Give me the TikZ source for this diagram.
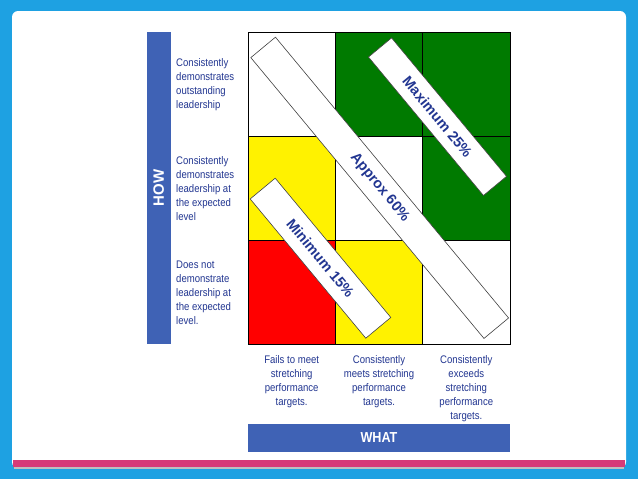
\documentclass[tikz,border=0pt]{standalone}
\usepackage{fontspec}
\setmainfont{Liberation Sans}
\newfontfamily\narrowfont[FakeStretch=0.87]{Liberation Sans}
\definecolor{skyblue}{RGB}{30,161,226}
\definecolor{barblue}{RGB}{63,98,181}
\definecolor{inkblue}{RGB}{34,54,145}
\definecolor{deepgreen}{RGB}{0,122,0}
\definecolor{pinkline}{RGB}{214,58,120}
\tikzset{
  cell/.style={draw=black, line width=0.9pt, minimum width=87.33pt, minimum height=104pt, inner sep=0pt},
  band/.style={draw=black!75, fill=white, line width=0.6pt, inner sep=0pt, rotate=-50.3,
    text=inkblue, font=\fontsize{14.5}{16}\selectfont\bfseries},
  rowlbl/.style={anchor=west, align=left, inner sep=0pt, text=inkblue,
    font=\narrowfont\fontsize{11}{14}\selectfont},
  collbl/.style={anchor=north, align=center, inner sep=0pt, text=inkblue,
    font=\narrowfont\fontsize{11}{14}\selectfont},
  axisbar/.style={fill=barblue, text=white, inner sep=0pt}
}
\begin{document}
\begin{tikzpicture}[x=1pt,y=-1pt]
    \useasboundingbox (0,0) rectangle (638,479);
    % Frame
    \fill[skyblue] (0,0) rectangle (638,479);
    \fill[white, rounded corners=6pt] (12,11) rectangle (626,468);
    \fill[pinkline] (13,460) rectangle (625,467);
    \fill[black!25] (14,467) rectangle (624,468.5);
    % Grid
    \foreach \r/\c/\clr in {1/1/white,1/2/deepgreen,1/3/deepgreen,
                            2/1/yellow,2/2/white,2/3/deepgreen,
                            3/1/red,3/2/yellow,3/3/white}
        \node[cell, fill=\clr] (c\r\c) at ({248+87.33*(\c-0.5)},{32+104*(\r-0.5)}) {};
    % HOW axis
    \node[axisbar, rotate=90, minimum width=312pt, minimum height=24.5pt,
          font=\bfseries\fontsize{15}{15}\selectfont] (how) at (158.75,188) {HOW};
    \node[rowlbl] (how1) at (176,84.5) {Consistently\\demonstrates\\outstanding\\leadership};
    \node[rowlbl] (how2) at (176,189) {Consistently\\demonstrates\\leadership at\\the expected\\level};
    \node[rowlbl] (how3) at (176,293) {Does not\\demonstrate\\leadership at\\the expected\\level.};
    % WHAT axis
    \node[axisbar, minimum width=262pt, minimum height=28pt,
          font=\narrowfont\bfseries\fontsize{14.5}{14.5}\selectfont] (what) at (379,438) {WHAT};
    \node[collbl] (what1) at (291.7,355) {Fails to meet\\stretching\\performance\\targets.};
    \node[collbl] (what2) at (379,355) {Consistently\\meets stretching\\performance\\targets.};
    \node[collbl] (what3) at (466.3,355) {Consistently\\exceeds\\stretching\\performance\\targets.};
    % Bands
    \node[band, minimum width=365pt, minimum height=32pt] (band60) at (379.7,187.8) {Approx 60\%};
    \node[band, minimum width=180pt, minimum height=30pt] (band25) at (437.5,116.7) {Maximum 25\%};
    \node[band, minimum width=181pt, minimum height=32.5pt] (band15) at (320.5,258.2) {Minimum 15\%};
\end{tikzpicture}
\end{document}
